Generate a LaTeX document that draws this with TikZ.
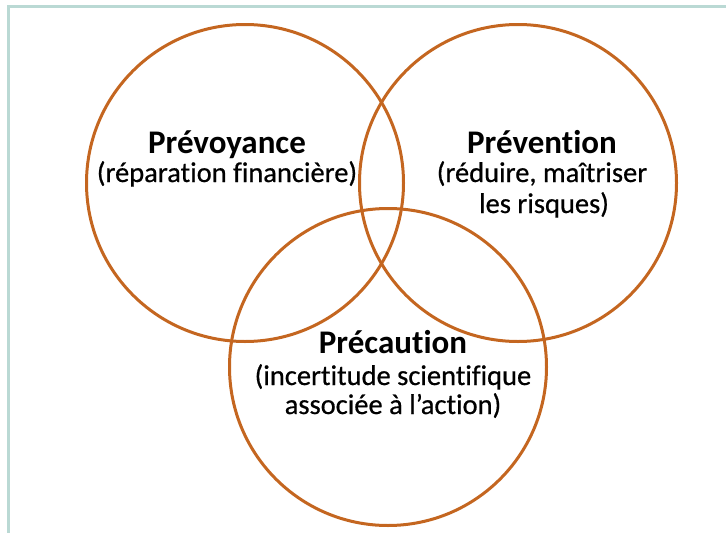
\documentclass[tikz,border=0pt]{standalone}
\usepackage{fontspec}
\setmainfont{Carlito}[Ligatures=NoCommon]
\newfontface\subfont{Carlito}[FakeBold=0.6,Ligatures=NoCommon]
\definecolor{ringorange}{RGB}{196,102,32}
\definecolor{frameteal}{RGB}{186,217,212}
\begin{document}
\begin{tikzpicture}[x=1pt,y=-1pt,
  ring/.style={draw=ringorange, line width=3pt, circle, minimum size=317pt, inner sep=0pt},
  title/.style={anchor=base, inner sep=0pt, font=\fontsize{33}{36}\selectfont\bfseries},
  subtitle/.style={anchor=base, inner sep=0pt, font=\subfont\fontsize{28.5}{31}\selectfont}]
  \useasboundingbox (0,0) rectangle (726,533);
  % frame lines along the left and top
  \coordinate (fa) at (8.5,533);
  \coordinate (fb) at (8.5,6.5);
  \coordinate (fc) at (726,6.5);
  \draw[frameteal, line width=2.5pt] (fa) -- (fb) -- (fc);
  % the three overlapping circles
  \node[ring] (prevoy) at (245,183) {};
  \node[ring] (prevent) at (518,183) {};
  \node[ring] (precau) at (388,367) {};
  % labels
  \node[title] (t1) at (227,153) {Prévoyance};
  \node[subtitle] (s1) at (227,182) {(réparation financière)};
  \node[title] (t2) at (542,153) {Prévention};
  \node[subtitle] (s2a) at (542,182) {(réduire, maîtriser};
  \node[subtitle] (s2b) at (544,213) {les risques)};
  \node[title] (t3) at (393,353) {Précaution};
  \node[subtitle] (s3a) at (393,385) {(incertitude scientifique};
  \node[subtitle] (s3b) at (393,414) {associée à l’action)};
\end{tikzpicture}
\end{document}
